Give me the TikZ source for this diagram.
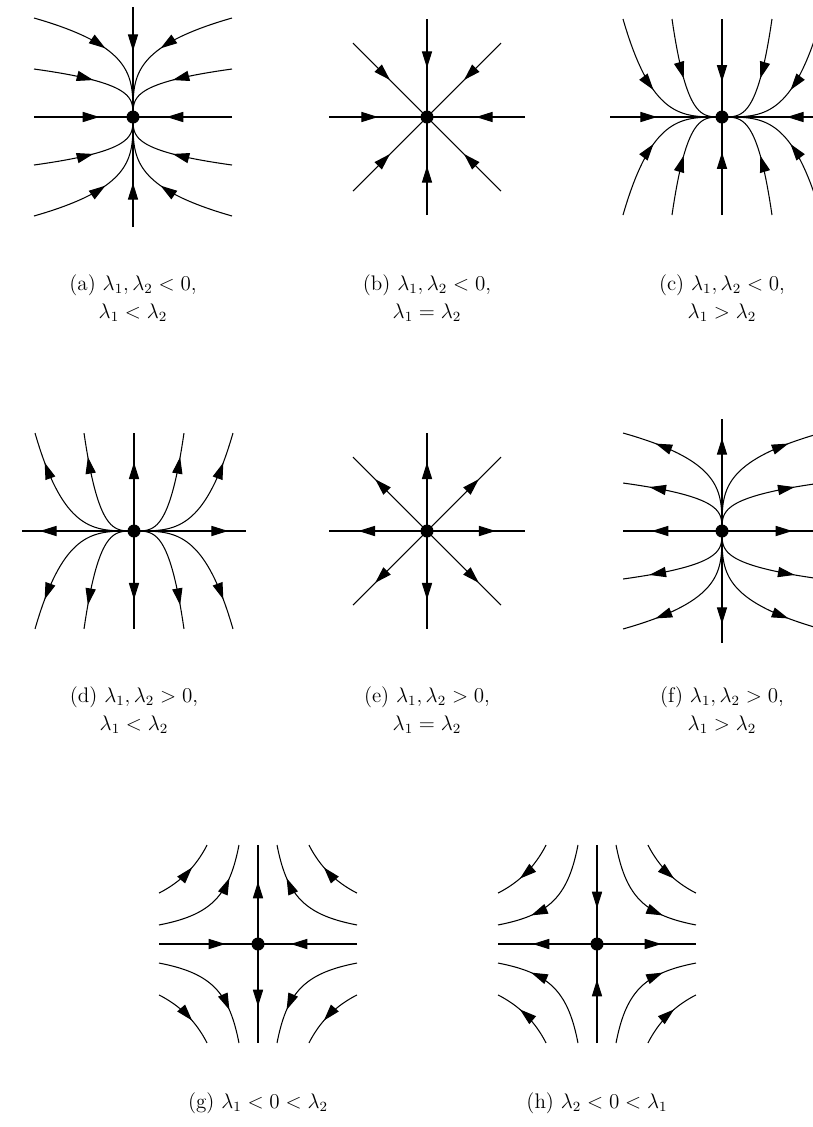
\documentclass[tikz,border=0pt]{standalone}
\usepackage{amsmath}
\usepackage{tikz}
\usetikzlibrary{arrows.meta,decorations.markings}

\tikzset{
  traj/.style={line width=0.6pt},
  flow/.style={traj, postaction={decorate},
    decoration={markings, mark=at position #1 with {\arrow{Triangle[length=9.5pt,width=5.8pt]}}}},
  dot/.style={circle, fill, inner sep=0pt, minimum size=7.4pt},
  captext/.style={align=center, font=\fontsize{12}{16}\selectfont}
}

\begin{document}
\begin{tikzpicture}[x=0.02cm, y=-0.02cm]
  \useasboundingbox (0,0) rectangle (813,1127);

  % (a) stable node, tangent to the vertical axis
  \begin{scope}[shift={(133,117)}]
    \node[dot] (dotA) at (0,0) {};
    \draw[flow=0.4] (0,-110) -- (dotA.center);
    \draw[flow=0.4] (0,110) -- (dotA.center);
    \draw[flow=0.66] (-99,0) -- (dotA.center);
    \draw[flow=0.66] (99,0) -- (dotA.center);
    \foreach \sx in {-1,1} \foreach \sy in {-1,1} \foreach \Y in {99,48}
      \draw[flow=0.5] plot[domain=1:0, samples=40] ({\sx*99*\x*\x*\x*sqrt(abs(\x))}, {\sy*\Y*\x});
  \end{scope}
  \node[captext] (capA) at (133,298) {(a) $\lambda_1, \lambda_2 < 0$,\\ $\lambda_1 < \lambda_2$};

  % (b) stable star
  \begin{scope}[shift={(427,117)}]
    \node[dot] (dotB) at (0,0) {};
    \foreach \ex/\ey in {0/-98, 0/98, -98/0, 98/0, -74/-74, 74/-74, -74/74, 74/74}
      \draw[flow=0.5] (\ex,\ey) -- (dotB.center);
  \end{scope}
  \node[captext] (capB) at (427,298) {(b) $\lambda_1, \lambda_2 < 0$,\\ $\lambda_1 = \lambda_2$};

  % (c) stable node, tangent to the horizontal axis
  \begin{scope}[shift={(722,117)}]
    \node[dot] (dotC) at (0,0) {};
    \draw[flow=0.42] (-112,0) -- (dotC.center);
    \draw[flow=0.42] (112,0) -- (dotC.center);
    \draw[flow=0.64] (0,-98) -- (dotC.center);
    \draw[flow=0.64] (0,98) -- (dotC.center);
    \foreach \sx in {-1,1} \foreach \sy in {-1,1} \foreach \X in {99,50}
      \draw[flow=0.5] plot[domain=1:0, samples=40] ({\sx*\X*\x}, {\sy*98*\x*\x*\x*sqrt(abs(\x))});
  \end{scope}
  \node[captext] (capC) at (722,298) {(c) $\lambda_1, \lambda_2 < 0$,\\ $\lambda_1 > \lambda_2$};

  % (d) unstable node, tangent to the horizontal axis
  \begin{scope}[shift={(134,531)}]
    \node[dot] (dotD) at (0,0) {};
    \draw[flow=0.84] (dotD.center) -- (-112,0);
    \draw[flow=0.84] (dotD.center) -- (112,0);
    \draw[flow=0.7] (dotD.center) -- (0,-98);
    \draw[flow=0.7] (dotD.center) -- (0,98);
    \foreach \sx in {-1,1} \foreach \sy in {-1,1} \foreach \X in {99,50}
      \draw[flow=0.8] plot[domain=0:1, samples=40] ({\sx*\X*\x}, {\sy*98*\x*\x*\x*sqrt(abs(\x))});
  \end{scope}
  \node[captext] (capD) at (134,710) {(d) $\lambda_1, \lambda_2 > 0$,\\ $\lambda_1 < \lambda_2$};

  % (e) unstable star
  \begin{scope}[shift={(427,531)}]
    \node[dot] (dotE) at (0,0) {};
    \foreach \ex/\ey in {0/-98, 0/98, -98/0, 98/0, -74/-74, 74/-74, -74/74, 74/74}
      \draw[flow=0.7] (dotE.center) -- (\ex,\ey);
  \end{scope}
  \node[captext] (capE) at (427,710) {(e) $\lambda_1, \lambda_2 > 0$,\\ $\lambda_1 = \lambda_2$};

  % (f) unstable node, tangent to the vertical axis
  \begin{scope}[shift={(722,531)}]
    \node[dot] (dotF) at (0,0) {};
    \draw[flow=0.83] (dotF.center) -- (0,-112);
    \draw[flow=0.83] (dotF.center) -- (0,112);
    \draw[flow=0.71] (dotF.center) -- (-99,0);
    \draw[flow=0.71] (dotF.center) -- (99,0);
    \foreach \sx in {-1,1} \foreach \sy in {-1,1} \foreach \Y in {98,48}
      \draw[flow=0.78] plot[domain=0:1, samples=40] ({\sx*99*\x*\x*\x*sqrt(abs(\x))}, {\sy*\Y*\x});
  \end{scope}
  \node[captext] (capF) at (722,710) {(f) $\lambda_1, \lambda_2 > 0$,\\ $\lambda_1 > \lambda_2$};

  % (g) saddle, x contracts and y expands
  \begin{scope}[shift={(258,944)}]
    \node[dot] (dotG) at (0,0) {};
    \draw[flow=0.67] (-99,0) -- (dotG.center);
    \draw[flow=0.67] (99,0) -- (dotG.center);
    \draw[flow=0.63] (dotG.center) -- (0,-99);
    \draw[flow=0.63] (dotG.center) -- (0,99);
    \foreach \sx in {-1,1} \foreach \sy in {-1,1} \foreach \r/\L/\f in {71/0.332/0.61, 43.4/0.825/0.72}
      \draw[flow=\f] plot[domain=\L:-\L, samples=40] ({\sx*\r*exp(\x)}, {\sy*\r*exp(-\x)});
  \end{scope}
  \node[captext] (capG) at (258,1103) {(g) $\lambda_1 < 0 < \lambda_2$};

  % (h) saddle, x expands and y contracts
  \begin{scope}[shift={(597,944)}]
    \node[dot] (dotH) at (0,0) {};
    \draw[flow=0.65] (dotH.center) -- (-99,0);
    \draw[flow=0.65] (dotH.center) -- (99,0);
    \draw[flow=0.64] (0,-99) -- (dotH.center);
    \draw[flow=0.64] (0,99) -- (dotH.center);
    \foreach \sx in {-1,1} \foreach \sy in {-1,1} \foreach \r/\L/\f in {71/0.332/0.62, 43.4/0.825/0.72}
      \draw[flow=\f] plot[domain=-\L:\L, samples=40] ({\sx*\r*exp(\x)}, {\sy*\r*exp(-\x)});
  \end{scope}
  \node[captext] (capH) at (597,1103) {(h) $\lambda_2 < 0 < \lambda_1$};
\end{tikzpicture}
\end{document}
